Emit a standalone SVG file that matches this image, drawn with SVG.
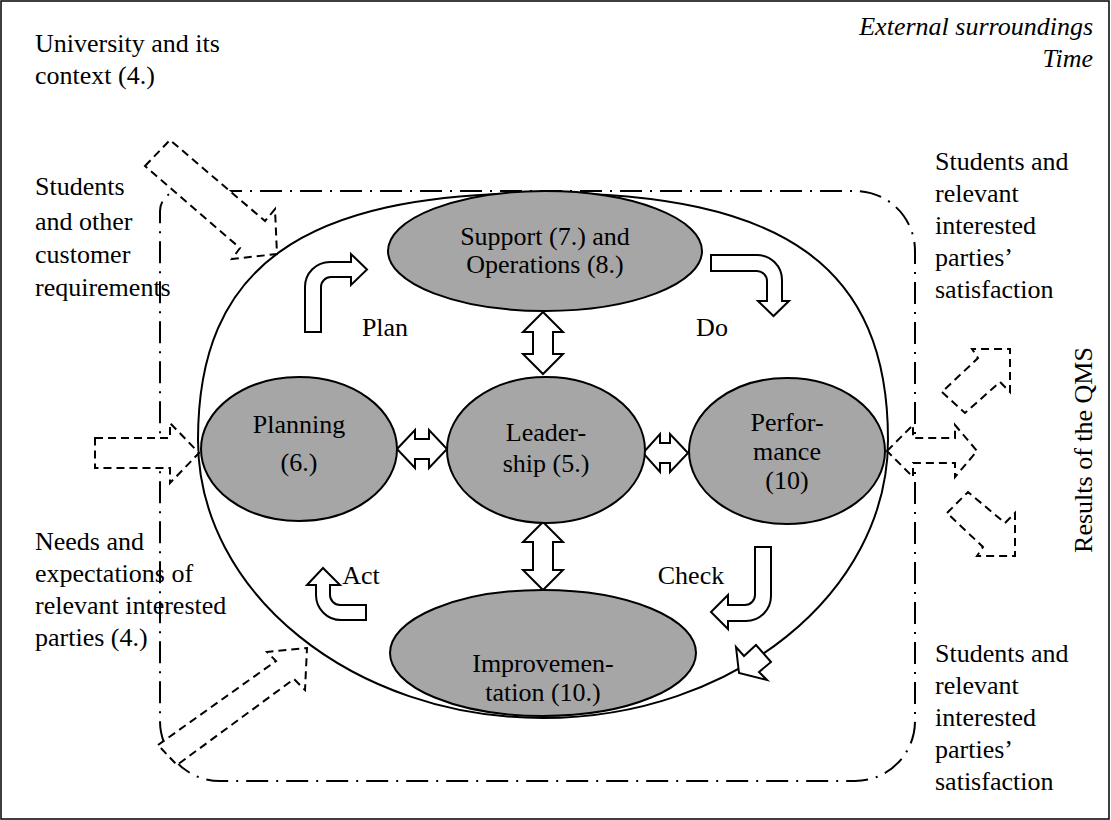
<svg xmlns="http://www.w3.org/2000/svg" width="1111" height="820" viewBox="0 0 1111 820">
<style>
text{font-family:"Liberation Serif","Times New Roman",serif;font-size:26px;fill:#000}
.it{font-style:italic}
.node{fill:#a6a6a6;stroke:#000;stroke-width:2}
.blk{fill:#fff;stroke:#000;stroke-width:2;stroke-linejoin:miter}
.dsh{fill:#fff;stroke:#000;stroke-width:2;stroke-dasharray:8 5}
</style>
<rect x="1" y="1" width="1108" height="818" fill="#fff" stroke="#000" stroke-width="1.5"/>
<path id="frame" d="M180,191 H855 A60,60 0 0 1 915,251 V721 A60,60 0 0 1 855,781 H220 A60,60 0 0 1 160,721 V211 A20,20 0 0 1 180,191 Z" fill="none" stroke="#000" stroke-width="2" stroke-dasharray="22 8 2 8"/>
<path id="cycle" d="M543,193 C301.5,193 198,267 198,440 C198,593 353,718 543,718 C733,718 888,593 888,440 C888,267 784.5,193 543,193 Z" fill="none" stroke="#000" stroke-width="2"/>
<g id="connectors">
<path class="blk" d="M543,312 L563,332 H553 V354 H563 L543,374 L523,354 H533 V332 H523 Z"/>
<path class="blk" d="M543,522 L563,542 H553 V570 H563 L543,590 L523,570 H533 V542 H523 Z"/>
<path class="blk" d="M397,449 L415,430 V439 H429 V430 L447,449 L429,468 V459 H415 V468 Z"/>
<path class="blk" d="M643,453 L660,434 V443 H670 V434 L688,453 L670,472 V463 H660 V472 Z"/>
<path class="blk" d="M305,332 V287 A25,25 0 0 1 330,262 H351 V254 L367,269.5 L351,285 V277 H331 A10,10 0 0 0 321,287 V332 Z"/>
<path class="blk" d="M711,255 H757 A25,25 0 0 1 782,280 V301 H789 L773.5,316 L758,301 H767 V281 A10,10 0 0 0 757,271 H711 Z"/>
<path class="blk" d="M755,547 H771 V596 A25,25 0 0 1 746,621 H728 V629 L711,612 L728,595 V605 H745 A10,10 0 0 0 755,595 Z"/>
<path class="blk" d="M366,620 H341 A25,25 0 0 1 316,595 V585 H307 L323,568 L340,585 H330 V595 A10,10 0 0 0 340,605 H366 Z"/>
<path class="blk" d="M739,673 L736,647 L744,656 L756,645 L771,662 L759,672 L767,680 Z"/>
<path class="dsh" d="M145,166 L170,140 L265,221 L275,209 L277,254 L232,259 L240,248 Z"/>
<path class="dsh" d="M95,438 H170 V423 L199,453 L170,483 V468 H95 Z"/>
<path class="dsh" d="M887,451 L913,425 V438 H955 V425 L977,451 L955,477 V463 H913 V477 Z"/>
<path class="dsh" d="M942,392 L965,413 L1000,382 L1010,392 L1010,349 L972,349 L978,358 Z"/>
<path class="dsh" d="M947,513 L968,492 L1005,523 L1015,513 L1015,556 L977,556 L983,547 Z"/>
<path class="dsh" d="M158,745 L276,661 L267,652 L307,648 L305,690 L294,679 L177,765 Z"/>
</g>
<g id="support"><ellipse class="node" cx="545" cy="251" rx="157" ry="60"/>
<text x="545" y="245" text-anchor="middle">Support (7.) and</text>
<text x="545" y="273" text-anchor="middle">Operations (8.)</text></g>
<g id="leadership"><ellipse class="node" cx="546" cy="450" rx="99" ry="73"/>
<text x="546" y="441" text-anchor="middle">Leader-</text>
<text x="546" y="472" text-anchor="middle">ship (5.)</text></g>
<g id="planning"><ellipse class="node" cx="299" cy="449" rx="98" ry="72"/>
<text x="299" y="433" text-anchor="middle">Planning</text>
<text x="299" y="471" text-anchor="middle">(6.)</text></g>
<g id="performance"><ellipse class="node" cx="787" cy="451" rx="98" ry="73"/>
<text x="787" y="431" text-anchor="middle">Perfor-</text>
<text x="787" y="460" text-anchor="middle">mance</text>
<text x="787" y="489" text-anchor="middle">(10)</text></g>
<g id="improvement"><ellipse class="node" cx="543" cy="653" rx="153" ry="63"/>
<text x="543" y="672" text-anchor="middle">Improvemen-</text>
<text x="543" y="701" text-anchor="middle">tation (10.)</text></g>
<g id="labels">
<text x="385" y="336" text-anchor="middle">Plan</text>
<text x="712" y="336" text-anchor="middle">Do</text>
<text x="361" y="584" text-anchor="middle">Act</text>
<text x="691" y="584" text-anchor="middle">Check</text>
<text class="it" x="1093" y="35" text-anchor="end">External surroundings</text>
<text class="it" x="1093" y="67" text-anchor="end">Time</text>
<text x="35" y="52">University and its</text>
<text x="35" y="84">context (4.)</text>
<text x="35" y="195">Students</text>
<text x="35" y="230">and other</text>
<text x="35" y="263">customer</text>
<text x="35" y="296">requirements</text>
<text x="35" y="550">Needs and</text>
<text x="35" y="582">expectations of</text>
<text x="35" y="614">relevant interested</text>
<text x="35" y="646">parties (4.)</text>
<text x="935" y="170">Students and</text>
<text x="935" y="202">relevant</text>
<text x="935" y="234">interested</text>
<text x="935" y="266">parties’</text>
<text x="935" y="298">satisfaction</text>
<text x="935" y="662">Students and</text>
<text x="935" y="694">relevant</text>
<text x="935" y="726">interested</text>
<text x="935" y="758">parties’</text>
<text x="935" y="790">satisfaction</text>
<text x="1092" y="450" text-anchor="middle" transform="rotate(-90 1092 450)">Results of the QMS</text>
</g>
</svg>
